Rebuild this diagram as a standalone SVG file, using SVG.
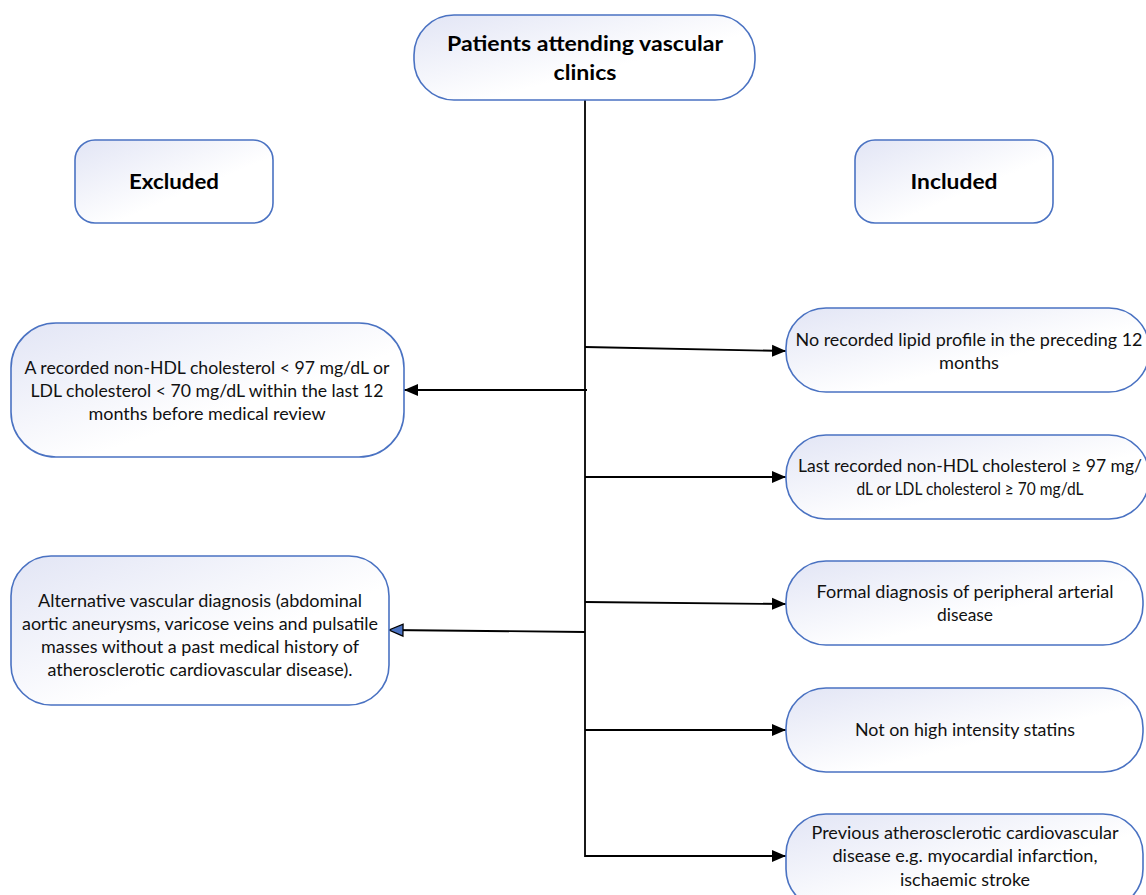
<svg xmlns="http://www.w3.org/2000/svg" width="1146" height="895" viewBox="0 0 1146 895">
<style>
.box{fill:url(#g);stroke:#4a72c2;stroke-width:1.6}
.t{font-family:Lato,"Open Sans",sans-serif;font-size:17.5px;fill:#111;text-anchor:middle}
.b{font-family:Lato,"Open Sans",sans-serif;font-size:21.5px;font-weight:bold;fill:#000;text-anchor:middle}
.c{stroke:#000;stroke-width:1.8;fill:none}
</style>
<defs>
<linearGradient id="g" x1="0" y1="0" x2="1" y2="1">
<stop offset="0" stop-color="#e2e5f5"/>
<stop offset="0.6" stop-color="#ffffff"/>
</linearGradient>
<marker id="ah" markerUnits="userSpaceOnUse" markerWidth="16" markerHeight="14" refX="14" refY="7" orient="auto">
<path d="M0,1 L14,7 L0,13 Z" fill="#000"/>
</marker>
<marker id="ahb" markerUnits="userSpaceOnUse" markerWidth="18" markerHeight="16" refX="15" refY="8" orient="auto">
<path d="M1,2 L15,8 L1,14 Z" fill="#4a72c2" stroke="#000" stroke-width="1.3"/>
</marker>
</defs>
<rect width="1146" height="895" fill="#fff"/>
<g id="connectors">
<line class="c" x1="585" y1="100" x2="585" y2="857"/>
<line class="c" x1="585" y1="347" x2="786" y2="351" marker-end="url(#ah)"/>
<line class="c" x1="585" y1="477" x2="786" y2="477" marker-end="url(#ah)"/>
<line class="c" x1="585" y1="602" x2="786" y2="604" marker-end="url(#ah)"/>
<line class="c" x1="585" y1="730" x2="786" y2="730" marker-end="url(#ah)"/>
<line class="c" x1="585" y1="856" x2="786" y2="856" marker-end="url(#ah)"/>
<line class="c" x1="587" y1="390" x2="404" y2="390" marker-end="url(#ah)"/>
<line class="c" x1="585" y1="632" x2="389" y2="630" marker-end="url(#ahb)"/>
</g>
<g id="top">
<rect class="box" x="414" y="15" width="341" height="85" rx="40"/>
<text class="b" x="585" y="51" textLength="276" lengthAdjust="spacingAndGlyphs">Patients attending vascular</text>
<text class="b" x="585" y="80" textLength="63" lengthAdjust="spacingAndGlyphs">clinics</text>
</g>
<g id="excluded">
<rect class="box" x="75" y="140" width="198" height="83" rx="20"/>
<text class="b" x="174" y="189" textLength="90" lengthAdjust="spacingAndGlyphs">Excluded</text>
</g>
<g id="included">
<rect class="box" x="855" y="140" width="198" height="83" rx="20"/>
<text class="b" x="954" y="189" textLength="87" lengthAdjust="spacingAndGlyphs">Included</text>
</g>
<g id="ex1">
<rect class="box" x="11" y="323" width="393" height="134" rx="45"/>
<text class="t" x="207" y="374" textLength="365" lengthAdjust="spacingAndGlyphs">A recorded non-HDL cholesterol &lt; 97 mg/dL or</text>
<text class="t" x="207" y="397" textLength="353" lengthAdjust="spacingAndGlyphs">LDL cholesterol &lt; 70 mg/dL within the last 12</text>
<text class="t" x="207" y="420" textLength="237" lengthAdjust="spacingAndGlyphs">months before medical review</text>
</g>
<g id="ex2">
<rect class="box" x="11" y="556" width="378" height="149" rx="40"/>
<text class="t" x="200" y="607" textLength="324" lengthAdjust="spacingAndGlyphs">Alternative vascular diagnosis (abdominal</text>
<text class="t" x="200" y="630" textLength="356" lengthAdjust="spacingAndGlyphs">aortic aneurysms, varicose veins and pulsatile</text>
<text class="t" x="200" y="653" textLength="318" lengthAdjust="spacingAndGlyphs">masses without a past medical history of</text>
<text class="t" x="200" y="676" textLength="305" lengthAdjust="spacingAndGlyphs">atherosclerotic cardiovascular disease).</text>
</g>
<g id="in1">
<rect class="box" x="786" y="308" width="363" height="84" rx="40"/>
<text class="t" x="969" y="346" textLength="347" lengthAdjust="spacingAndGlyphs">No recorded lipid profile in the preceding 12</text>
<text class="t" x="969" y="369" textLength="60" lengthAdjust="spacingAndGlyphs">months</text>
</g>
<g id="in2">
<rect class="box" x="786" y="435" width="363" height="84" rx="40"/>
<text class="t" x="970" y="472" textLength="344" lengthAdjust="spacingAndGlyphs">Last recorded non-HDL cholesterol ≥ 97 mg/</text>
<text class="t" x="970" y="495" textLength="227" lengthAdjust="spacingAndGlyphs">dL or LDL cholesterol ≥ 70 mg/dL</text>
</g>
<g id="in3">
<rect class="box" x="786" y="561" width="357" height="84" rx="40"/>
<text class="t" x="965" y="598" textLength="297" lengthAdjust="spacingAndGlyphs">Formal diagnosis of peripheral arterial</text>
<text class="t" x="965" y="621" textLength="56" lengthAdjust="spacingAndGlyphs">disease</text>
</g>
<g id="in4">
<rect class="box" x="786" y="688" width="357" height="84" rx="40"/>
<text class="t" x="965" y="736" textLength="220" lengthAdjust="spacingAndGlyphs">Not on high intensity statins</text>
</g>
<g id="in5">
<rect class="box" x="786" y="814" width="357" height="95" rx="40"/>
<text class="t" x="965" y="839" textLength="307" lengthAdjust="spacingAndGlyphs">Previous atherosclerotic cardiovascular</text>
<text class="t" x="965" y="862" textLength="265" lengthAdjust="spacingAndGlyphs">disease e.g. myocardial infarction,</text>
<text class="t" x="965" y="886" textLength="130" lengthAdjust="spacingAndGlyphs">ischaemic stroke</text>
</g>
</svg>
